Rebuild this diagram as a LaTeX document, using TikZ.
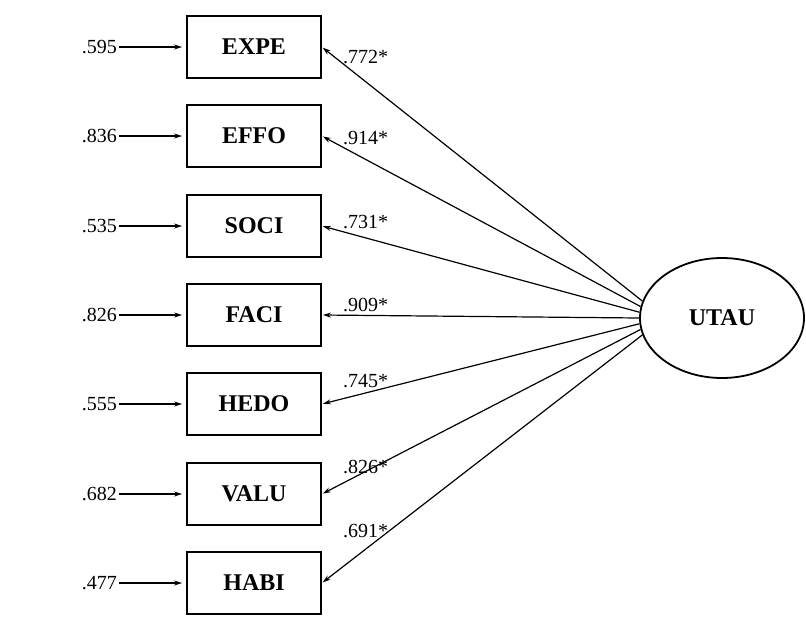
\documentclass[tikz,border=0pt]{standalone}
\usepackage{fontspec}
\setmainfont{Liberation Serif}
\usetikzlibrary{arrows.meta,shapes.geometric}
\begin{document}
\begin{tikzpicture}[x=1pt,y=-1pt,
  obs/.style={draw,line width=1.8pt,minimum width=134pt,minimum height=62pt,
    inner sep=0pt,font=\fontsize{24}{28}\selectfont\bfseries},
  lat/.style={ellipse,draw,line width=1.8pt,minimum width=164pt,minimum height=120pt,
    inner sep=0pt,font=\fontsize{24}{28}\selectfont\bfseries},
  num/.style={inner sep=0pt,font=\fontsize{20}{24}\selectfont},
  link/.style={line width=1.2pt,-{Stealth[length=8pt,width=5pt]}}]
\useasboundingbox (0,0) rectangle (806,619);

% latent factor
\node[lat] (utau) at (722,318) {UTAU};

% indicators, error terms and loadings
\foreach \name/\txt/\y/\err/\load/\ly/\ang in {
  expe/EXPE/47/.595/.772*/57/168,
  effo/EFFO/136/.836/.914*/138/172,
  soci/SOCI/226/.535/.731*/222/176,
  faci/FACI/315/.826/.909*/305/180,
  hedo/HEDO/404/.555/.745*/381/184,
  valu/VALU/494/.682/.826*/467/188,
  habi/HABI/583/.477/.691*/531/192}{
  \node[obs] (\name) at (254,\y) {\txt};
  \node[num,anchor=east] (\name-e) at (117,\y) {\err};
  \draw[link,shorten <=2pt,shorten >=4pt] (\name-e.east) -- (\name.west);
  \draw[link,shorten >=1pt] (utau.\ang) -- (\name.east);
  \node[num,anchor=west] (\name-l) at (343,\ly) {\load};
}
\end{tikzpicture}
\end{document}
